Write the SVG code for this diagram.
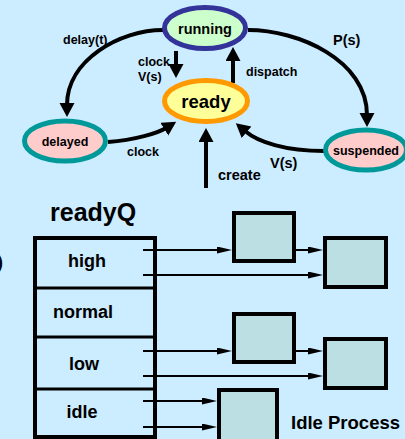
<svg xmlns="http://www.w3.org/2000/svg" width="405" height="439" viewBox="0 0 405 439">
<style>
text{font-family:"Liberation Sans",Arial,sans-serif;font-weight:bold;fill:#000}
.st{stroke-width:5}
.c{stroke:#000;stroke-width:4;fill:none}
.t{stroke:#000;stroke-width:2;fill:none}
.box{fill:#BBDFE2;stroke:#000;stroke-width:4}
.mid{text-anchor:middle}
</style>
<defs>
<marker id="big" markerUnits="userSpaceOnUse" markerWidth="15" markerHeight="16" refX="2" refY="7.5" orient="auto"><path d="M0,0 L14,7.5 L0,15 Z" fill="#000"/></marker>
<marker id="sm" markerUnits="userSpaceOnUse" markerWidth="16" markerHeight="8" refX="10" refY="3.5" orient="auto"><path d="M0,0 L15,3.5 L0,7 Z" fill="#000"/></marker>
</defs>
<rect x="0" y="0" width="405" height="439" fill="#CCECFF"/>
<text x="-3" y="268" font-size="18">)</text>
<g id="connectors">
<path class="c" d="M163,30 C120,30 67,60 67,105" marker-end="url(#big)"/>
<path class="c" d="M248,30 C298,30 367,60 367,115" marker-end="url(#big)"/>
<path class="c" d="M176,51 L176,66" marker-end="url(#big)"/>
<path class="c" d="M233,83 L233,59" marker-end="url(#big)"/>
<path class="c" d="M108,142 C135,140 158,133 166,128" marker-end="url(#big)"/>
<path class="c" d="M324,151 C285,151 258,142 245,131" marker-end="url(#big)"/>
<path class="c" d="M206,188 L206,140" marker-end="url(#big)"/>
<path class="t" d="M143,250 H227" marker-end="url(#sm)"/>
<path class="t" d="M280,250 H318" marker-end="url(#sm)"/>
<path class="t" d="M143,275 H318" marker-end="url(#sm)"/>
<path class="t" d="M143,351 H227" marker-end="url(#sm)"/>
<path class="t" d="M280,351 H318" marker-end="url(#sm)"/>
<path class="t" d="M143,376 H318" marker-end="url(#sm)"/>
<path class="t" d="M143,401 H212" marker-end="url(#sm)"/>
<path class="t" d="M143,427 H212" marker-end="url(#sm)"/>
</g>
<g id="labels">
<text x="63" y="44" font-size="12.5">delay(t)</text>
<text x="333" y="45" font-size="14.5">P(s)</text>
<text x="138" y="66" font-size="12.5">clock</text>
<text x="138" y="81" font-size="12.5">V(s)</text>
<text x="246" y="76" font-size="12.5">dispatch</text>
<text x="127" y="156" font-size="12.5">clock</text>
<text x="270" y="168" font-size="14.5">V(s)</text>
<text x="218" y="180" font-size="14.5">create</text>
</g>
<g id="running">
<ellipse class="st" cx="205" cy="28" rx="40.5" ry="20.5" fill="#CCFFCC" stroke="#333399"/>
<text class="mid" x="205" y="34" font-size="14.5">running</text>
</g>
<g id="ready">
<ellipse class="st" cx="206" cy="101" rx="41.5" ry="20.5" fill="#FFFF99" stroke="#FF9900"/>
<text class="mid" x="206" y="108" font-size="18.5">ready</text>
</g>
<g id="delayed">
<ellipse class="st" cx="65" cy="141" rx="40.5" ry="20" fill="#FFCCCC" stroke="#009999"/>
<text class="mid" x="65" y="146" font-size="12.5">delayed</text>
</g>
<g id="suspended">
<ellipse class="st" cx="366" cy="150" rx="40.5" ry="20" fill="#FFCCCC" stroke="#009999"/>
<text class="mid" x="366" y="155" font-size="12.5">suspended</text>
</g>
<g id="readyQ">
<text x="50" y="221" font-size="25">readyQ</text>
<rect x="35" y="238" width="120" height="199" fill="none" stroke="#000" stroke-width="4"/>
<path d="M35,288 H155 M35,337 H155 M35,389 H155" stroke="#000" stroke-width="3"/>
<text class="mid" x="87" y="267" font-size="18">high</text>
<text class="mid" x="83" y="318" font-size="18">normal</text>
<text class="mid" x="84" y="370" font-size="18">low</text>
<text class="mid" x="82" y="418" font-size="18">idle</text>
</g>
<g id="boxA"><rect class="box" x="234" y="213" width="60" height="48"/></g>
<g id="boxB"><rect class="box" x="325" y="238" width="61" height="49"/></g>
<g id="boxC"><rect class="box" x="234" y="314" width="60" height="48"/></g>
<g id="boxD"><rect class="box" x="325" y="339" width="61" height="49"/></g>
<g id="boxE"><rect class="box" x="219" y="390" width="58" height="60"/></g>
<g id="idleLabel"><text x="291" y="429" font-size="18.5">Idle Process</text></g>
</svg>
